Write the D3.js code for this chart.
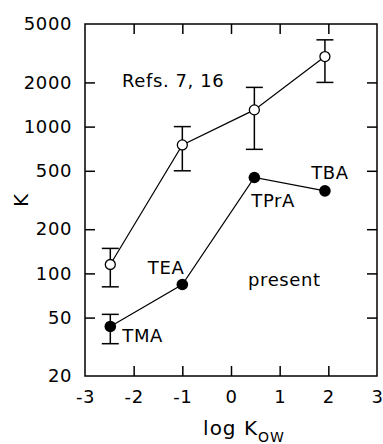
<!DOCTYPE html>
<html>
<head>
<meta charset="utf-8">
<script src="https://cdnjs.cloudflare.com/ajax/libs/d3/7.8.5/d3.min.js"></script>
<style>
  body { margin: 0; background: #fff; }
  text { font-family: "DejaVu Sans", Verdana, sans-serif; fill: #000; }
</style>
</head>
<body>
<div id="chart"></div>
<script>
// log Kow of the quaternary ammonium ions
var logKow = [-2.48, -1.0, 0.48, 1.93];
var ions = ["TMA", "TEA", "TPrA", "TBA"];

// Refs. 7, 16 (open circles) with error bars
var refK = [115, 750, 1300, 3000];
var refLow = [81, 500, 700, 2000];
var refHigh = [148, 1000, 1850, 3900];

// present work (filled circles)
var presentK = [43.5, 84, 450, 365];
var presentLow = [33.2, null, null, null];
var presentHigh = [52.6, null, null, null];

var xTicks = [-3, -2, -1, 0, 1, 2, 3];
var yTicks = [20, 50, 100, 200, 500, 1000, 2000, 5000];

var W = 383, H = 444;
var margin = {top: 24, right: 6, bottom: 68, left: 85};
var w = W - margin.left - margin.right;
var h = H - margin.top - margin.bottom;

var svg = d3.select("#chart").append("svg")
  .attr("width", W).attr("height", H);

var g = svg.append("g")
  .attr("transform", "translate(" + margin.left + "," + margin.top + ")");

var x = d3.scaleLinear().domain([-3, 3]).range([0, w]);
var y = d3.scaleLog().domain([20, 5000]).range([h, 0]);

var tickLen = 10;
var fs = "18px", ls = "0.6px";
var plain = function(d) { return String(d); };

// frame
g.append("rect").attr("width", w).attr("height", h)
  .attr("fill", "none").attr("stroke", "#000").attr("stroke-width", 1.5);

// axes (inward ticks on all sides)
function styleAxis(sel) {
  sel.select(".domain").remove();
  sel.selectAll(".tick line").attr("stroke-width", 1.5);
  sel.selectAll("text").style("font-size", fs).style("letter-spacing", ls);
}

g.append("g").attr("transform", "translate(0," + h + ")")
  .call(d3.axisBottom(x).tickValues(xTicks).tickSizeInner(-tickLen).tickSizeOuter(0)
    .tickPadding(14).tickFormat(plain))
  .call(styleAxis)
  .selectAll(".tick").filter(function(d) { return d === -3 || d === 3; })
  .select("line").remove();

g.append("g")
  .call(d3.axisTop(x).tickValues(xTicks.slice(1, -1)).tickSizeInner(-tickLen).tickSizeOuter(0)
    .tickFormat(""))
  .call(styleAxis);

g.append("g")
  .call(d3.axisLeft(y).tickValues(yTicks).tickSizeInner(-tickLen).tickSizeOuter(0)
    .tickPadding(13).tickFormat(plain))
  .call(styleAxis)
  .selectAll(".tick").filter(function(d) { return d === 20 || d === 5000; })
  .select("line").remove();

g.append("g").attr("transform", "translate(" + w + ",0)")
  .call(d3.axisRight(y).tickValues(yTicks.slice(1, -1)).tickSizeInner(-tickLen).tickSizeOuter(0)
    .tickFormat(""))
  .call(styleAxis);

g.selectAll(".tick text").attr("font-family", "DejaVu Sans");

// axis titles
svg.append("text")
  .attr("transform", "translate(28," + (margin.top + h / 2) + ") rotate(-90)")
  .attr("text-anchor", "middle")
  .style("font-size", "20px").style("letter-spacing", "1px")
  .text("K");

var xt = svg.append("text")
  .attr("x", 244).attr("y", 435)
  .attr("text-anchor", "middle")
  .style("font-size", "20px").style("letter-spacing", "1px");
xt.append("tspan").text("log K");
xt.append("tspan").attr("dy", 7).style("font-size", "14px").text("OW");

// error bars
function errorBars(low, high) {
  var cap = 8.5;
  logKow.forEach(function(d, i) {
    if (low[i] == null) return;
    var ex = x(d);
    g.append("line").attr("x1", ex).attr("x2", ex)
      .attr("y1", y(low[i])).attr("y2", y(high[i]))
      .attr("stroke", "#000").attr("stroke-width", 1.5);
    [low[i], high[i]].forEach(function(v) {
      g.append("line").attr("x1", ex - cap).attr("x2", ex + cap)
        .attr("y1", y(v)).attr("y2", y(v))
        .attr("stroke", "#000").attr("stroke-width", 1.5);
    });
  });
}
errorBars(refLow, refHigh);
errorBars(presentLow, presentHigh);

var line = d3.line()
  .x(function(d) { return x(d[0]); })
  .y(function(d) { return y(d[1]); });

g.append("path").datum(d3.zip(logKow, refK)).attr("d", line)
  .attr("fill", "none").attr("stroke", "#000").attr("stroke-width", 1.2);
g.append("path").datum(d3.zip(logKow, presentK)).attr("d", line)
  .attr("fill", "none").attr("stroke", "#000").attr("stroke-width", 1.2);

g.selectAll(".ref").data(d3.zip(logKow, refK)).enter().append("circle")
  .attr("cx", function(d) { return x(d[0]); })
  .attr("cy", function(d) { return y(d[1]); })
  .attr("r", 5).attr("fill", "#fff").attr("stroke", "#000").attr("stroke-width", 1.3);

g.selectAll(".pres").data(d3.zip(logKow, presentK)).enter().append("circle")
  .attr("cx", function(d) { return x(d[0]); })
  .attr("cy", function(d) { return y(d[1]); })
  .attr("r", 5.8).attr("fill", "#000");

// ion labels, offset from their points
var labelOff = [[12, 16, "start"], [2, -11, "end"], [-3, 29, "start"], [5, -12, "middle"]];
ions.forEach(function(name, i) {
  g.append("text")
    .attr("x", x(logKow[i]) + labelOff[i][0])
    .attr("y", y(presentK[i]) + labelOff[i][1])
    .attr("text-anchor", labelOff[i][2])
    .style("font-size", fs).style("letter-spacing", ls)
    .text(name);
});

// series labels
svg.append("text").attr("x", 122).attr("y", 87)
  .style("font-size", fs).style("letter-spacing", ls).text("Refs. 7, 16");
svg.append("text").attr("x", 248).attr("y", 286)
  .style("font-size", fs).style("letter-spacing", ls).text("present");
</script>
</body>
</html>
